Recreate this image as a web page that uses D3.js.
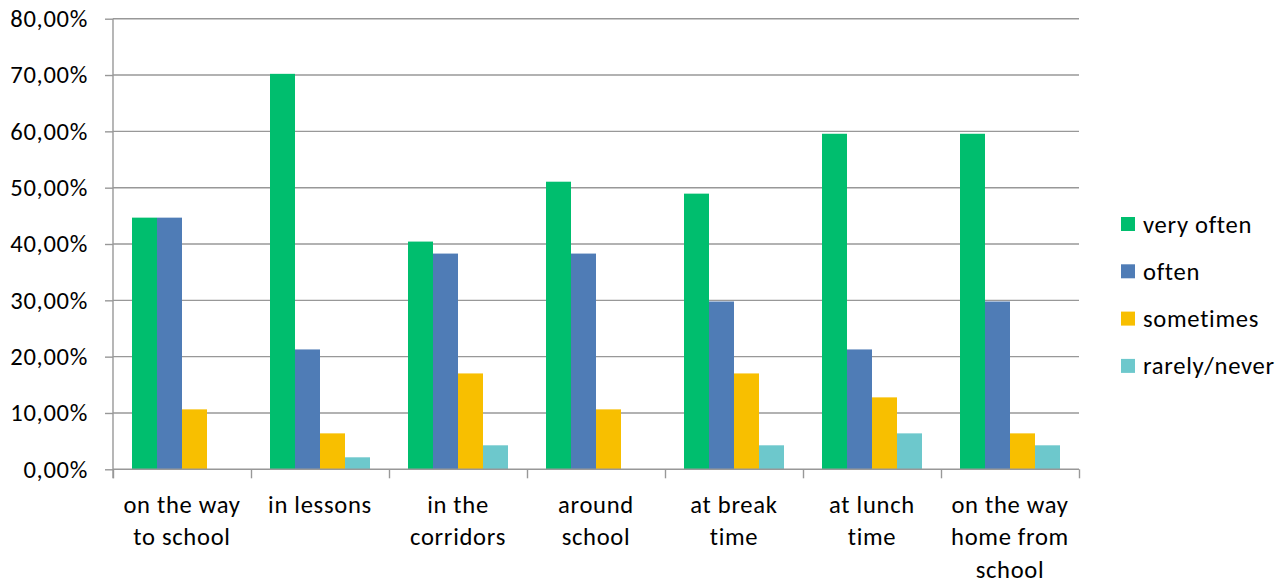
<!DOCTYPE html>
<html><head><meta charset="utf-8">
<script src="https://cdn.jsdelivr.net/npm/d3@7"></script>
<style>
html,body{margin:0;padding:0;background:#fff;}
svg{display:block;}
text{font-family:Carlito,Calibri,Lato,"DejaVu Sans",sans-serif;fill:#000;letter-spacing:0.7px;}
</style></head>
<body><svg id="c" width="1287" height="583"></svg>
<script>
const categories = [
  ["on the way","to school"],
  ["in lessons"],
  ["in the","corridors"],
  ["around","school"],
  ["at break","time"],
  ["at lunch","time"],
  ["on the way","home from","school"]
];
const seriesNames = ["very often","often","sometimes","rarely/never"];
const veryOften = [44.68, 70.21, 40.43, 51.06, 48.94, 59.57, 59.57];
const often     = [44.68, 21.28, 38.30, 38.30, 29.79, 21.28, 29.79];
const sometimes = [10.64,  6.38, 17.02, 10.64, 17.02, 12.77,  6.38];
const rarely    = [ 0.00,  2.13,  4.26,  0.00,  4.26,  6.38,  4.26];
const yTicks = [0,10,20,30,40,50,60,70,80];
const colors = ["#00BE6E","#4F7CB6","#F8BF00","#6DC8CC"];

const series = [veryOften, often, sometimes, rarely];
const svg = d3.select("#c");
const L = 113, R = 1079, T = 18.7, B = 469.3;
const fs = 24.6;

const x = d3.scaleBand().domain(d3.range(categories.length)).range([L,R]).paddingInner(0).paddingOuter(0);
const bw = x.bandwidth();
const inner = d3.scaleBand().domain(d3.range(series.length)).range([0,bw]).paddingInner(0).paddingOuter(0.76);
const y = d3.scaleLinear().domain([0,80]).range([B,T]);

// gridlines
svg.append("g").selectAll("line").data(yTicks.filter(d=>d>0)).join("line")
  .attr("x1",L).attr("x2",R).attr("y1",d=>y(d)).attr("y2",d=>y(d))
  .attr("stroke","#989898").attr("stroke-width",1.4);

// y axis
const yAxis = d3.axisLeft(y).tickValues(yTicks).tickSize(8).tickPadding(17)
  .tickFormat(d=>d3.format(".2f")(d).replace(".",",")+"%");
const gy = svg.append("g").attr("transform",`translate(${L},0)`).call(yAxis);
gy.select(".domain").attr("stroke","#989898").attr("stroke-width",1.4).attr("d",`M0,${T}V${B+9}`);
gy.selectAll(".tick line").attr("stroke","#989898").attr("stroke-width",1.4);
gy.selectAll(".tick text").attr("font-size",fs).attr("fill","#000").style("font-family","Carlito,Calibri,Lato,sans-serif");

// bars
const groups = svg.append("g").selectAll("g").data(series).join("g").attr("fill",(d,i)=>colors[i]);
groups.each(function(vals, si){
  d3.select(this).selectAll("rect").data(vals).join("rect")
    .attr("x",(d,ci)=>x(ci)+inner(si))
    .attr("width",inner.bandwidth())
    .attr("y",d=>y(d))
    .attr("height",d=>B-y(d));
});

// x axis
const xb = d3.scaleLinear().domain([0,categories.length]).range([L,R]);
const xAxis = d3.axisBottom(xb).tickValues(d3.range(categories.length+1)).tickSize(9).tickFormat("");
const gx = svg.append("g").attr("transform",`translate(0,${B})`).call(xAxis);
gx.select(".domain").attr("stroke","#989898").attr("stroke-width",1.4).attr("d",`M${L},0H${R}`);
gx.selectAll(".tick line").attr("stroke","#989898").attr("stroke-width",1.4);

// category labels
const lab = svg.append("g").selectAll("text").data(categories).join("text")
  .attr("text-anchor","middle").attr("font-size",fs)
  .attr("x",(d,i)=>x(i)+bw/2).attr("y",512.5);
lab.each(function(lines){
  d3.select(this).selectAll("tspan").data(lines).join("tspan")
    .attr("x",d3.select(this).attr("x")).attr("dy",(d,i)=>i===0?0:32.5).text(d=>d);
});

// legend
const lg = svg.append("g").selectAll("g").data(seriesNames).join("g")
  .attr("transform",(d,i)=>`translate(1121,${224+i*47.3})`);
lg.append("rect").attr("x",0).attr("y",-7).attr("width",14).attr("height",14).attr("fill",(d,i)=>colors[i]);
lg.append("text").attr("x",22).attr("y",8.5).attr("font-size",fs).text(d=>d);
</script></body></html>
